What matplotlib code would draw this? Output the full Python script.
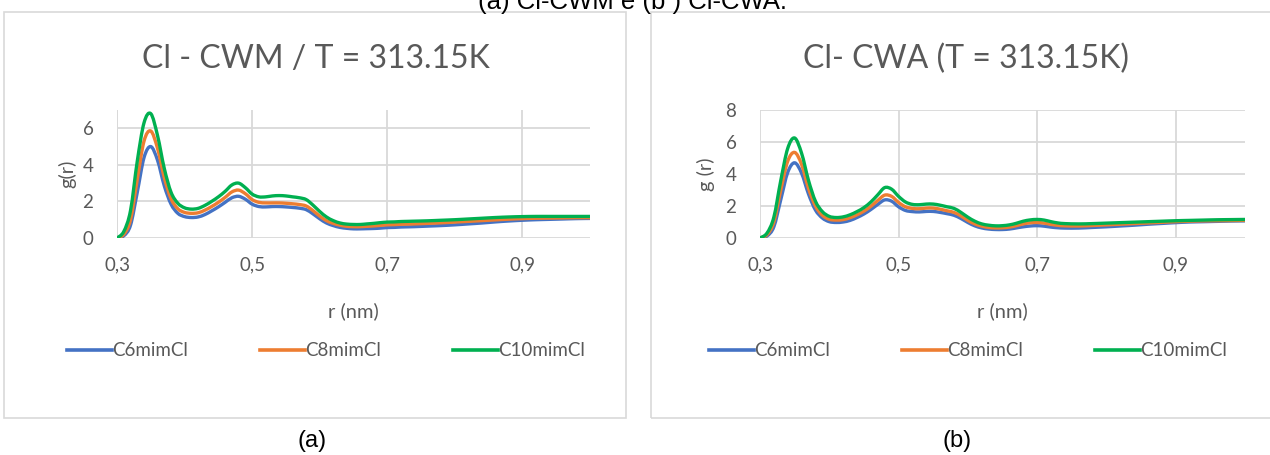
import numpy as np
import matplotlib
matplotlib.use("Agg")
import matplotlib.pyplot as plt
from matplotlib.path import Path
from matplotlib.patches import PathPatch, Rectangle
from matplotlib.lines import Line2D

# ---------------- data ----------------
r_nm = [0.30, 0.31, 0.32, 0.33, 0.34, 0.35, 0.36, 0.37, 0.38, 0.39,
        0.40, 0.41, 0.42, 0.43, 0.44, 0.45, 0.46, 0.47, 0.48, 0.49,
        0.50, 0.51, 0.52, 0.53, 0.54, 0.55, 0.56, 0.57, 0.58, 0.59,
        0.60, 0.61, 0.62, 0.63, 0.64, 0.65, 0.66, 0.67, 0.68, 0.69,
        0.70, 0.71, 0.72, 0.73, 0.74, 0.76, 0.78, 0.80, 0.82, 0.84,
        0.86, 0.88, 0.90, 0.92, 0.94, 0.96, 0.98, 1.00]

series_names = ["C6mimCl", "C8mimCl", "C10mimCl"]

cwm_c6 = [0.00, 0.12, 0.70, 2.50, 4.40, 5.00, 4.25, 2.85, 1.85, 1.35,
          1.17, 1.12, 1.15, 1.28, 1.48, 1.70, 1.95, 2.20, 2.28, 2.12,
          1.85, 1.72, 1.70, 1.72, 1.72, 1.70, 1.67, 1.63, 1.55, 1.32,
          1.05, 0.82, 0.68, 0.58, 0.53, 0.50, 0.50, 0.51, 0.52, 0.54,
          0.57, 0.58, 0.60, 0.61, 0.62, 0.65, 0.68, 0.72, 0.77, 0.82,
          0.88, 0.93, 0.97, 1.00, 1.02, 1.04, 1.06, 1.07]
cwm_c8 = [0.00, 0.20, 1.00, 3.20, 5.30, 5.85, 4.90, 3.30, 2.15, 1.60,
          1.40, 1.35, 1.38, 1.52, 1.72, 1.95, 2.22, 2.52, 2.62, 2.42,
          2.10, 1.95, 1.92, 1.92, 1.92, 1.90, 1.87, 1.83, 1.75, 1.50,
          1.20, 0.95, 0.80, 0.70, 0.64, 0.62, 0.62, 0.64, 0.66, 0.69,
          0.72, 0.73, 0.75, 0.76, 0.77, 0.80, 0.83, 0.87, 0.91, 0.95,
          0.99, 1.03, 1.06, 1.08, 1.09, 1.10, 1.11, 1.11]
cwm_c10 = [0.00, 0.35, 1.50, 4.20, 6.30, 6.80, 5.60, 3.80, 2.50, 1.90,
           1.65, 1.58, 1.62, 1.78, 2.00, 2.25, 2.55, 2.90, 3.00, 2.75,
           2.40, 2.25, 2.25, 2.30, 2.32, 2.30, 2.25, 2.20, 2.10, 1.80,
           1.45, 1.15, 0.95, 0.82, 0.76, 0.74, 0.74, 0.77, 0.80, 0.84,
           0.87, 0.88, 0.90, 0.91, 0.92, 0.94, 0.97, 1.00, 1.04, 1.08,
           1.12, 1.15, 1.17, 1.18, 1.18, 1.18, 1.18, 1.18]

cwa_c6 = [0.00, 0.12, 0.70, 2.40, 4.10, 4.70, 4.05, 2.75, 1.75, 1.25,
          1.02, 0.97, 1.00, 1.10, 1.28, 1.50, 1.78, 2.10, 2.38, 2.30,
          1.95, 1.72, 1.65, 1.63, 1.66, 1.66, 1.60, 1.52, 1.42, 1.22,
          0.97, 0.76, 0.63, 0.56, 0.53, 0.53, 0.56, 0.63, 0.70, 0.75,
          0.77, 0.74, 0.68, 0.64, 0.62, 0.62, 0.66, 0.70, 0.75, 0.80,
          0.86, 0.91, 0.96, 1.00, 1.02, 1.04, 1.06, 1.07]
cwa_c8 = [0.00, 0.20, 1.00, 3.00, 4.80, 5.35, 4.60, 3.10, 2.00, 1.42,
          1.17, 1.12, 1.15, 1.27, 1.45, 1.68, 1.98, 2.35, 2.68, 2.60,
          2.22, 1.95, 1.85, 1.83, 1.87, 1.87, 1.80, 1.70, 1.60, 1.38,
          1.10, 0.88, 0.74, 0.66, 0.63, 0.64, 0.68, 0.77, 0.88, 0.95,
          0.97, 0.93, 0.85, 0.79, 0.76, 0.75, 0.78, 0.82, 0.86, 0.90,
          0.94, 0.98, 1.02, 1.05, 1.07, 1.08, 1.09, 1.10]
cwa_c10 = [0.00, 0.30, 1.30, 3.60, 5.60, 6.25, 5.30, 3.60, 2.30, 1.65,
           1.35, 1.28, 1.32, 1.45, 1.65, 1.90, 2.25, 2.70, 3.15, 3.05,
           2.60, 2.25, 2.10, 2.08, 2.12, 2.12, 2.05, 1.95, 1.85, 1.60,
           1.30, 1.05, 0.88, 0.80, 0.76, 0.77, 0.82, 0.92, 1.05, 1.13,
           1.16, 1.12, 1.02, 0.94, 0.90, 0.88, 0.90, 0.93, 0.96, 0.99,
           1.02, 1.05, 1.08, 1.10, 1.12, 1.14, 1.15, 1.16]

titles = ["Cl - CWM / T = 313.15K", "Cl- CWA (T = 313.15K)"]
ylabels = ["g(r)", "g (r)"]
xlabel = "r (nm)"
xticks = [0.3, 0.5, 0.7, 0.9]
xticklabels = ["0,3", "0,5", "0,7", "0,9"]
yticks_left = [0, 2, 4, 6]
yticks_right = [0, 2, 4, 6, 8]
captions = ["(a)", "(b)"]
top_caption = "(a) Cl-CWM e (b ) Cl-CWA."

colors = ["#4472C4", "#ED7D31", "#00B050"]

# ---------------- helpers ----------------
def smooth_path(x, y):
    """Excel-like smoothed line: Catmull-Rom rendered as cubic Bezier."""
    pts = np.column_stack([x, y])
    n = len(pts)
    verts = [pts[0]]
    codes = [Path.MOVETO]
    for i in range(n - 1):
        p0 = pts[i - 1] if i > 0 else pts[i]
        p1 = pts[i]
        p2 = pts[i + 1]
        p3 = pts[i + 2] if i + 2 < n else pts[i + 1]
        c1 = p1 + (p2 - p0) / 6.0
        c2 = p2 - (p3 - p1) / 6.0
        verts += [c1, c2, p2]
        codes += [Path.CURVE4] * 3
    return Path(verts, codes)

plt.rcParams['font.family'] = ['Lato', 'DejaVu Sans']
W, H = 1270, 455
fig = plt.figure(figsize=(W / 100, H / 100), dpi=100)

def fx(px):
    return px / W

def fy(py):
    return 1 - py / H

grey = "#595959"
gridc = "#D9D9D9"

# panel boxes
for (x0, x1) in [(4, 626), (651, 1275)]:
    fig.patches.append(Rectangle((fx(x0), fy(418)), fx(x1 - x0), (418 - 12) / H,
                                 transform=fig.transFigure, fill=False,
                                 edgecolor=gridc, lw=1.2, zorder=0))

panels = [
    dict(ax=(117, 590), ylim=7, yticks=yticks_left,
         data=[cwm_c6, cwm_c8, cwm_c10], title=titles[0], ylabel=ylabels[0],
         tcx=316, ylx=67, legx=326, capx=312),
    dict(ax=(760, 1245), ylim=8, yticks=yticks_right,
         data=[cwa_c6, cwa_c8, cwa_c10], title=titles[1], ylabel=ylabels[1],
         tcx=966, ylx=706, legx=968, capx=957),
]

for i, p in enumerate(panels):
    x0, x1 = p['ax']
    ax = fig.add_axes([fx(x0), fy(238), (x1 - x0) / W, (238 - 110) / H])
    ax.set_xlim(0.3, 1.0)
    ax.set_ylim(0, p['ylim'])
    ax.set_xticks(xticks)
    ax.set_xticklabels(xticklabels)
    ax.set_yticks(p['yticks'])
    ax.tick_params(length=0, labelsize=13.5, colors=grey)
    ax.tick_params(axis='x', pad=13)
    ax.tick_params(axis='y', pad=17)
    for s in ax.spines.values():
        s.set_visible(False)
    ax.grid(True, color=gridc, lw=1.3)
    ax.set_axisbelow(True)
    if p['ylim'] == 7:
        ax.axvline(0.3, color=gridc, lw=1.3, zorder=0.5)
    for vals, c in zip(p['data'], colors):
        ax.add_patch(PathPatch(smooth_path(np.array(r_nm), np.array(vals)),
                               facecolor='none', edgecolor=c, lw=2.4,
                               capstyle='round', joinstyle='round', zorder=3))
    fig.text(fx(p['tcx']), fy(59), p['title'], ha='center', va='center',
             fontsize=23, color=grey)
    fig.text(fx((x0 + x1) / 2), fy(311), xlabel, ha='center', va='center',
             fontsize=14.5, color=grey)
    fig.text(fx(p['ylx']), fy(174), p['ylabel'], ha='center', va='center',
             rotation=90, fontsize=14.5, color=grey)
    handles = [Line2D([], [], color=c, lw=2.6) for c in colors]
    fig.legend(handles, series_names, loc='center', ncol=3,
               bbox_to_anchor=(fx(p['legx']), fy(351)), frameon=False,
               fontsize=13.5, handlelength=2.4, handletextpad=0.05,
               columnspacing=3.8, labelcolor=grey)
    fig.text(fx(p['capx']), fy(441), captions[i], ha='center', va='center',
             fontsize=17, color='black', family=['Liberation Sans', 'DejaVu Sans'])

fig.text(fx(632), fy(9), top_caption, ha='center', va='baseline',
         fontsize=18.5, color='black', family=['Liberation Sans', 'DejaVu Sans'])

fig.savefig("out.png", dpi=100)
